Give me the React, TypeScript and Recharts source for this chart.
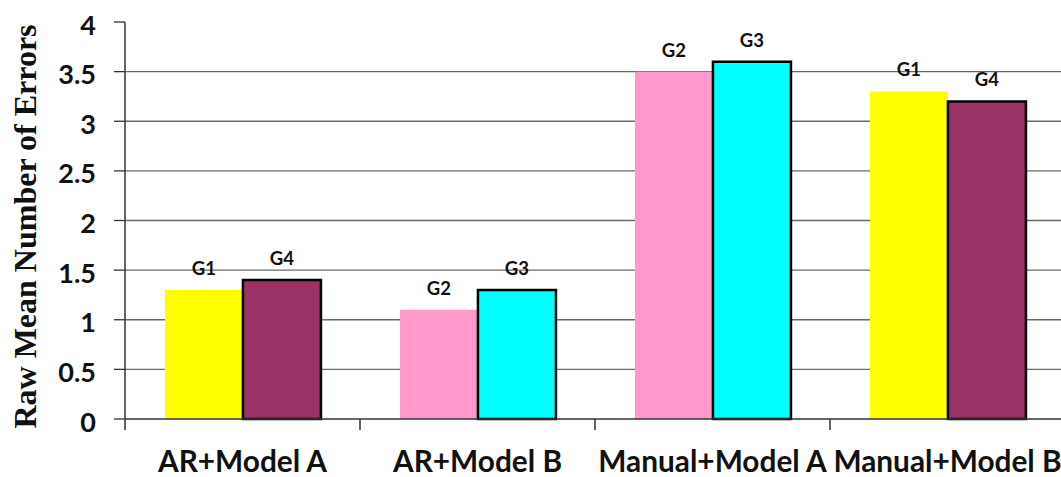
import React from 'react';
import { BarChart, Bar, XAxis, YAxis, CartesianGrid, LabelList, Cell } from 'recharts';

// Categories on the x axis
const categories = ['AR+Model A', 'AR+Model B', 'Manual+Model A', 'Manual+Model B'];

// First and second bar of each pair
const firstValues = [1.3, 1.1, 3.5, 3.3];
const secondValues = [1.4, 1.3, 3.6, 3.2];

// Group names written above the bars
const firstGroups = ['G1', 'G2', 'G2', 'G1'];
const secondGroups = ['G4', 'G3', 'G3', 'G4'];

// Y axis ticks
const yTicks = [0, 0.5, 1, 1.5, 2, 2.5, 3, 3.5, 4];
const gridValues = [0.5, 1, 1.5, 2, 2.5, 3, 3.5];

// Fill colour per group name
const groupColors: Record<string, string> = {
  G1: '#FFFF00',
  G2: '#FF99CC',
  G3: '#00FFFF',
  G4: '#993366',
};
const outlinedGroups = ['G3', 'G4'];

const data = categories.map((name, i) => ({
  name,
  first: firstValues[i],
  second: secondValues[i],
  firstGroup: firstGroups[i],
  secondGroup: secondGroups[i],
}));

const SANS = 'Lato, "Open Sans", sans-serif';
const X_TICK_SIZE = 11;
const X_TICK_MARGIN = 20;

const CategoryTick = (props: any) => {
  const { x, y, payload } = props;
  const half = payload.offset || 0;
  const axisY = y - X_TICK_SIZE - X_TICK_MARGIN;
  const bx = x - half;
  return (
    <g>
      <line x1={bx} y1={axisY} x2={bx} y2={axisY + X_TICK_SIZE} stroke="#333" strokeWidth={1.5} />
      <text
        x={x}
        y={axisY + 53}
        textAnchor="middle"
        fontFamily={SANS}
        fontWeight={700}
        fontSize={29.8}
        fill="#111"
      >
        {payload.value}
      </text>
    </g>
  );
};

const YTitle = (props: any) => {
  const vb = props.viewBox;
  const cx = vb.x + 25;
  const cy = vb.y + vb.height / 2 + 6;
  return (
    <text
      x={cx}
      y={cy}
      transform={`rotate(-90 ${cx} ${cy})`}
      textAnchor="middle"
      dominantBaseline="central"
      fontFamily='"Liberation Serif", "Times New Roman", serif'
      fontWeight={700}
      fontSize={32}
      fill="#111"
    >
      Raw Mean Number of Errors
    </text>
  );
};

const groupLabelStyle = { fontFamily: SANS, fontWeight: 700, fontSize: 18.5, fill: '#111' };

export default function App() {
  return (
    <div
      style={{
        position: 'fixed',
        left: 0,
        top: 0,
        width: 1061,
        height: 477,
        overflow: 'hidden',
        background: '#fff',
      }}
    >
      <BarChart
        width={1070}
        height={477}
        data={data}
        margin={{ top: 22, right: 5, bottom: 8, left: 0 }}
        barCategoryGap="17%"
        barGap={0}
      >
        <CartesianGrid vertical={false} horizontalValues={gridValues} stroke="#6b6b6b" strokeWidth={1.3} />
        <XAxis
          dataKey="name"
          height={50}
          axisLine={{ stroke: '#333', strokeWidth: 1.5 }}
          tickLine={false}
          tickSize={X_TICK_SIZE}
          tickMargin={X_TICK_MARGIN}
          tick={<CategoryTick />}
          interval={0}
        />
        <YAxis
          width={125}
          domain={[0, 4]}
          ticks={yTicks}
          interval={0}
          axisLine={{ stroke: '#333', strokeWidth: 1.5 }}
          tickLine={{ stroke: '#333', strokeWidth: 1.3 }}
          tickSize={11}
          tickMargin={18}
          tick={{ fontFamily: SANS, fontWeight: 700, fontSize: 27, fill: '#111', dy: 3 }}
          label={<YTitle />}
        />
        <Bar dataKey="first" isAnimationActive={false}>
          {data.map((d, i) => (
            <Cell
              key={`f-${i}`}
              fill={groupColors[d.firstGroup]}
              stroke={outlinedGroups.includes(d.firstGroup) ? '#000' : 'none'}
              strokeWidth={2.5}
            />
          ))}
          <LabelList dataKey="firstGroup" position="top" offset={15} style={groupLabelStyle} />
        </Bar>
        <Bar dataKey="second" isAnimationActive={false}>
          {data.map((d, i) => (
            <Cell
              key={`s-${i}`}
              fill={groupColors[d.secondGroup]}
              stroke={outlinedGroups.includes(d.secondGroup) ? '#000' : 'none'}
              strokeWidth={2.5}
            />
          ))}
          <LabelList dataKey="secondGroup" position="top" offset={15} style={groupLabelStyle} />
        </Bar>
      </BarChart>
    </div>
  );
}
